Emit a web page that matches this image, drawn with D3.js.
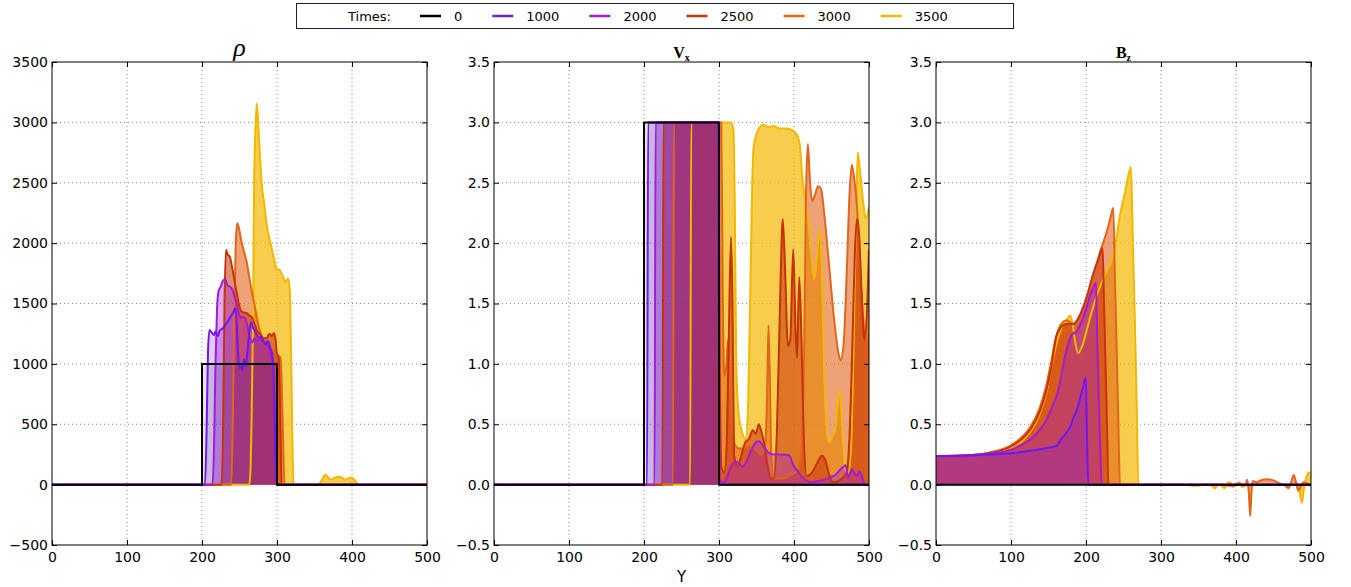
<!DOCTYPE html>
<html><head><meta charset="utf-8">
<script src="https://cdnjs.cloudflare.com/ajax/libs/d3/7.8.5/d3.min.js"></script>
<style>body{margin:0;background:#fff}svg{display:block}</style>
</head><body>
<script>
// ---------- DATA ----------
const times = [0, 1000, 2000, 2500, 3000, 3500];
const seriesColors = ["#000000", "#7216f4", "#a31bd6", "#c8320a", "#e2661a", "#f2b800"];
const fillAlpha = [0.1, 0.22, 0.37, 0.55, 0.6, 0.7];
const xTicks = [0, 100, 200, 300, 400, 500];
const rhoTicks = [-500, 0, 500, 1000, 1500, 2000, 2500, 3000, 3500];
const fieldTicks = [-0.5, 0, 0.5, 1, 1.5, 2, 2.5, 3, 3.5];

// Density rho  [Y, value]
const rho_t0 = [[0,0],[200,0],[200,1000],[300,1000],[300,0],[500,0]];
const rho_t1000 = [[0,0],[204,0],[206,400],[208,1100],[210,1280],[213,1260],[216,1240],[218,1270],[221,1230],[224,1280],[227,1290],[230,1310],[233,1340],[236,1370],[239,1400],[242,1430],[244,1460],[246,1380],[248,1100],[250,960],[252,1000],[254,950],[256,1040],[258,980],[260,1060],[262,1200],[264,1310],[266,1345],[268,1300],[270,1280],[273,1240],[276,1215],[279,1225],[282,1190],[285,1160],[288,1190],[291,1130],[293,1100],[295,1000],[297,500],[299,0],[500,0]];
const rho_t2000 = [[0,0],[214,0],[216,300],[218,1000],[220,1450],[222,1600],[225,1640],[228,1690],[231,1700],[234,1650],[237,1640],[240,1620],[243,1570],[246,1500],[249,1420],[252,1380],[255,1390],[258,1370],[261,1300],[264,1210],[267,1180],[270,1210],[274,1190],[278,1200],[282,1180],[286,1170],[290,1120],[294,1000],[297,600],[300,0],[500,0]];
const rho_t2500 = [[0,0],[226,0],[228,400],[230,1500],[232,1945],[234,1910],[237,1888],[240,1805],[243,1700],[246,1600],[249,1500],[253,1432],[256,1425],[260,1420],[263,1400],[266,1390],[270,1330],[273,1280],[277,1250],[282,1212],[286,1212],[290,1250],[293,1230],[296,1255],[298,1200],[300,1080],[302,1060],[304,700],[306,0],[500,0]];
const rho_t3000 = [[0,0],[239,0],[241,500],[243,1400],[245,2000],[247,2164],[249,2130],[252,2030],[256,1930],[260,1830],[263,1720],[266,1611],[270,1490],[273,1390],[276,1300],[280,1225],[284,1200],[288,1170],[292,1140],[297,1090],[301,1070],[304,1060],[306,900],[308,400],[310,0],[500,0]];
const rho_t3500 = [[0,0],[263,0],[264.5,100],[266,500],[268,1340],[269.5,2500],[271,2900],[273,3158],[275,2995],[277,2750],[279.6,2495],[283,2320],[286,2164],[289,2060],[292.4,1970],[296,1870],[299,1790],[303.6,1777],[307,1736],[311.6,1680],[314.7,1708],[317,1611],[319,1000],[321,200],[322,0],[355,0],[359,30],[364,80],[367,72],[371,42],[375,50],[380,64],[384,66],[388,52],[391,40],[395,52],[399,60],[403,42],[406,16],[409,0],[500,0]];

// Vx  [Y, value]
const vx_t0 = [[0,0],[200,0],[200,3],[300,3],[300,0],[500,0]];
const vx_t1000 = [[0,0],[204,0],[205.5,3],[299,3],[300.5,0],[500,0]];
const vx_t2000 = [[0,0],[214,0],[215.5,3],[299,3],[300.5,0.04],[306,0.02],[310,0.05],[314,0.12],[318,0.17],[322,0.19],[326,0.18],[331,0.15],[335,0.17],[340,0.24],[345,0.31],[349,0.35],[353,0.36],[357,0.34],[361,0.3],[365,0.27],[372,0.25],[382,0.25],[393,0.245],[400,0.15],[405,0.11],[410,0.07],[415,0.04],[422,0.02],[432,0.03],[440,0.04],[448,0.06],[455,0.08],[461,0.12],[466,0.15],[469,0.16],[472,0.06],[475,0.1],[477,0.13],[480,0.1],[484,0.07],[487,0.11],[490,0.08],[493,0.02],[495,0],[500,0]];
const vx_t2500 = [[0,0],[224.5,0],[226,3],[299,3],[301,1.0],[303,0.15],[307,0.1],[310,0.3],[313,1.2],[316,2.05],[318,1.5],[320,0.25],[325,0.15],[330,0.25],[335,0.35],[340,0.38],[345,0.45],[349,0.42],[353,0.5],[356,0.45],[360,0.35],[365,0.15],[369,0.05],[373,0.05],[377,0.4],[381,1.4],[385,2.2],[388,1.8],[392,1.15],[395,1.2],[399,1.95],[402,1.3],[404,1.05],[407,1.72],[410,1.2],[413,0.4],[417,0.07],[424,0.1],[431,0.18],[437,0.24],[442,0.2],[447,0.08],[452,0.02],[462,0.04],[470,0.1],[474,0.4],[478,1.2],[481,1.9],[484,2.2],[487,2.05],[490,1.6],[494,1.2],[497,1.4],[500,1.95]];
const vx_t3000 = [[0,0],[238.5,0],[240,3],[303,3],[305,1.6],[307,0.9],[310,1.0],[312,1.2],[315,0.7],[320,0.35],[326,0.3],[332,0.3],[340,0.32],[348,0.3],[356,0.25],[361,0.3],[364,0.7],[366,1.32],[368,0.8],[370,0.2],[374,0.05],[385,0.05],[395,0.08],[405,0.12],[410,0.3],[414,1.3],[416,2.4],[418.5,2.82],[421,2.55],[424,2.35],[428,2.4],[432,2.47],[436,2.45],[441,2.2],[447,1.8],[453,1.4],[459,1.1],[462,1.03],[466,1.15],[470,1.7],[474,2.4],[477,2.65],[480,2.55],[484,2.3],[488,1.8],[492,1.4],[495,1.2],[500,1.25]];
const vx_t3500 = [[0,0],[261.5,0],[263,3],[316,3],[319,2.95],[321,2.35],[323,1.0],[326,0.6],[330,0.45],[335.6,0.38],[339,0.7],[342,1.7],[345.8,2.77],[351,2.92],[359,2.98],[366,2.96],[372,2.97],[380,2.95],[388,2.95],[396,2.94],[401,2.92],[405,2.88],[408,2.8],[411,2.55],[415,2.35],[419,2.2],[423,1.9],[427,1.7],[431,1.9],[434,2.12],[437,1.8],[440,1.0],[443,0.5],[446.7,0.35],[451,0.4],[455,0.45],[458,0.65],[461,0.78],[464,0.5],[468,0.15],[472,0.08],[476,0.3],[480,1.3],[483,2.3],[485,2.75],[488,2.6],[492,2.35],[496,2.2],[500,2.3]];

// Bz  [Y, value]
const bz_t0 = [[0,0],[500,0]];
const bz_t1000 = [[0,0.237],[25,0.238],[50,0.242],[75,0.25],[101,0.26],[125,0.28],[145,0.3],[161,0.32],[166,0.37],[170,0.4],[175,0.44],[179,0.48],[183,0.55],[188,0.62],[194,0.76],[197,0.83],[199.6,0.89],[200.8,0.6],[202,0.2],[203.1,0],[500,0]];
const bz_t2000 = [[0,0.237],[40,0.241],[70,0.255],[101,0.29],[125,0.37],[138,0.45],[147,0.535],[156,0.66],[163,0.78],[168,0.93],[172,1.06],[177,1.18],[181,1.24],[187.6,1.27],[192,1.32],[196.4,1.39],[201,1.47],[205,1.56],[209,1.62],[213.3,1.67],[215,1.2],[217,0.7],[219,0.3],[221,0],[500,0]];
const bz_t2500 = [[0,0.237],[40,0.242],[70,0.26],[101,0.32],[125,0.45],[138,0.6],[147,0.78],[154,0.98],[160,1.22],[165,1.29],[170,1.32],[176,1.33],[183,1.33],[190,1.38],[196.4,1.47],[203,1.6],[209.8,1.75],[216,1.86],[222.2,1.96],[224,1.5],[226,1.0],[228,0.5],[229.8,0],[500,0]];
const bz_t3000 = [[0,0.237],[40,0.243],[70,0.265],[101,0.33],[125,0.47],[138,0.63],[147,0.82],[154,1.03],[160,1.22],[165,1.31],[170,1.35],[173.6,1.36],[178,1.35],[183,1.33],[190,1.38],[197,1.48],[204,1.6],[212,1.78],[220,1.95],[228,2.1],[233,2.22],[236.4,2.29],[238.6,1.7],[241,1.1],[243,0.55],[245.3,0],[300,0],[380,0],[395,-0.01],[405,0.01],[412,-0.01],[415,0.04],[417,-0.06],[419,-0.26],[420.5,-0.08],[422,0.03],[428,0.02],[435,0.04],[442,0.045],[450,0.035],[458,0.01],[466,-0.01],[470,-0.03],[474,0.03],[477,0.08],[480,0.02],[483,-0.05],[486,-0.02],[490,0.02],[495,0.01],[500,0]];
const bz_t3500 = [[0,0.237],[40,0.242],[70,0.26],[101,0.31],[125,0.43],[138,0.58],[147,0.76],[154,0.97],[160,1.15],[165,1.26],[170,1.33],[175,1.37],[178.7,1.4],[182,1.34],[185,1.2],[189.8,1.09],[195,1.15],[201,1.28],[207,1.42],[214,1.56],[224,1.72],[234,1.86],[240,2.02],[245,2.22],[252,2.42],[260,2.63],[262.5,2.0],[265,1.4],[267.5,0.7],[269.8,0],[330,0],[345,-0.01],[360,0],[368,-0.01],[372,-0.03],[376,0],[381,-0.01],[385,-0.03],[388,0.01],[392,0.02],[396,-0.02],[400,0],[404,0.02],[408,-0.02],[412,0],[480,0],[484,-0.03],[486,-0.1],[488,-0.15],[490,-0.06],[492,0.02],[495,0.08],[497,0.1],[500,0.1]];

// ---------- DRAW ----------
const W = 1351, H = 587;
const SANS = "'DejaVu Sans', sans-serif";
const SERIF = "'Liberation Serif', 'DejaVu Serif', serif";
const svg = d3.select("body").append("svg").attr("width", W).attr("height", H);
const plotTop = 62, plotBottom = 545;

function curveFor(s) {
  for (let k = 1; k < s.length; k++) if (s[k][0] <= s[k - 1][0]) return d3.curveLinear;
  return d3.curveMonotoneX;
}

function panel(x0, x1, series, yDomain, yTicks, fmt, titleFn, id) {
  const x = d3.scaleLinear().domain([0, 500]).range([x0, x1]);
  const y = d3.scaleLinear().domain(yDomain).range([plotBottom, plotTop]);
  const g = svg.append("g");
  g.append("clipPath").attr("id", "clip" + id).append("rect")
    .attr("x", x0).attr("y", plotTop).attr("width", x1 - x0).attr("height", plotBottom - plotTop);
  const grid = g.append("g").attr("stroke", "#8a8a8a").attr("stroke-width", 1).attr("stroke-dasharray", "1,3");
  xTicks.slice(1, -1).forEach(t => grid.append("line").attr("x1", x(t)).attr("x2", x(t)).attr("y1", plotTop).attr("y2", plotBottom));
  yTicks.slice(1, -1).forEach(t => grid.append("line").attr("y1", y(t)).attr("y2", y(t)).attr("x1", x0).attr("x2", x1));
  const plot = g.append("g").attr("clip-path", `url(#clip${id})`);
  for (let i = series.length - 1; i >= 0; i--) {
    const area = d3.area().x(d => x(d[0])).y0(y(0)).y1(d => y(d[1])).curve(curveFor(series[i]));
    plot.append("path").attr("d", area(series[i])).attr("fill", seriesColors[i]).attr("fill-opacity", fillAlpha[i]);
  }
  for (let i = series.length - 1; i >= 0; i--) {
    const line = d3.line().x(d => x(d[0])).y(d => y(d[1])).curve(curveFor(series[i]));
    plot.append("path").attr("d", line(series[i])).attr("fill", "none")
      .attr("stroke", seriesColors[i]).attr("stroke-width", 2).attr("stroke-linejoin", "round");
  }
  const ax = g.append("g").attr("transform", `translate(0,${plotBottom})`)
    .call(d3.axisBottom(x).tickValues(xTicks).tickSize(-5).tickPadding(7).tickFormat(d3.format("d")));
  const axT = g.append("g").attr("transform", `translate(0,${plotTop})`)
    .call(d3.axisTop(x).tickValues(xTicks).tickSize(-5).tickFormat(""));
  const ay = g.append("g").attr("transform", `translate(${x0},0)`)
    .call(d3.axisLeft(y).tickValues(yTicks).tickSize(-5).tickPadding(4).tickFormat(fmt));
  const ayR = g.append("g").attr("transform", `translate(${x1},0)`)
    .call(d3.axisRight(y).tickValues(yTicks).tickSize(-5).tickFormat(""));
  [ax, axT, ay, ayR].forEach(a => {
    a.select(".domain").remove();
    a.selectAll("line").attr("stroke", "#000");
    a.selectAll("text").style("font-size", "14px").style("font-family", SANS).attr("fill", "#000");
  });
  g.append("rect").attr("x", x0).attr("y", plotTop).attr("width", x1 - x0).attr("height", plotBottom - plotTop)
    .attr("fill", "none").attr("stroke", "#000").attr("stroke-width", 1);
  titleFn(g, (x0 + x1) / 2);
}

const rhoSeries = [rho_t0, rho_t1000, rho_t2000, rho_t2500, rho_t3000, rho_t3500];
const vxSeries = [vx_t0, vx_t1000, vx_t2000, vx_t2500, vx_t3000, vx_t3500];
const bzSeries = [bz_t0, bz_t1000, bz_t2000, bz_t2500, bz_t3000, bz_t3500];

panel(52, 427, rhoSeries, [-500, 3500], rhoTicks, d3.format("d"), (g, cx) => {
  g.append("text").attr("x", cx).attr("y", 56).attr("text-anchor", "middle")
    .style("font-family", SERIF).style("font-style", "italic").style("font-size", "26px").text("ρ");
}, 1);
const subTitle = (main, sub) => (g, cx) => {
  const t = g.append("text").attr("x", cx).attr("y", 58).attr("text-anchor", "middle")
    .style("font-family", SERIF).style("font-weight", "bold").style("font-size", "16px");
  t.append("tspan").text(main);
  t.append("tspan").style("font-size", "10px").attr("dy", 3).text(sub);
};
panel(494, 869, vxSeries, [-0.5, 3.5], fieldTicks, d3.format(".1f"), subTitle("V", "x"), 2);
panel(936, 1311, bzSeries, [-0.5, 3.5], fieldTicks, d3.format(".1f"), subTitle("B", "z"), 3);

svg.append("text").attr("x", 681.5).attr("y", 582).attr("text-anchor", "middle")
  .style("font-family", SANS).style("font-size", "15px").text("Y");

const leg = svg.append("g");
leg.append("rect").attr("x", 296.5).attr("y", 3.5).attr("width", 717).attr("height", 25)
  .attr("fill", "#fff").attr("stroke", "#222").attr("stroke-width", 1);
leg.append("text").attr("x", 348).attr("y", 21).style("font-family", SANS).style("font-size", "13px").text("Times:");
let lx = 420;
times.forEach((t, i) => {
  leg.append("line").attr("x1", lx).attr("x2", lx + 21).attr("y1", 16).attr("y2", 16)
    .attr("stroke", seriesColors[i]).attr("stroke-width", 2.5);
  const tx = leg.append("text").attr("x", lx + 34).attr("y", 21)
    .style("font-family", SANS).style("font-size", "13px").text(String(t));
  lx = lx + 34 + tx.node().getComputedTextLength() + 30;
});
</script>
</body></html>
